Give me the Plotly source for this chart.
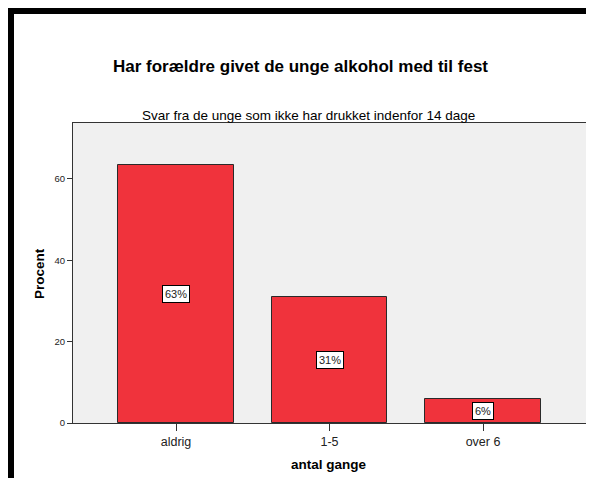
import plotly.graph_objects as go

categories = ["aldrig", "1-5", "over 6"]
percent = [63.3, 31.0, 5.9]
labels = ["63%", "31%", "6%"]

# figure is rendered with an 8px page margin; coordinates below are figure pixels
W, H = 586, 470
L, R, T, B = 65, 8, 115, 55
pw, ph = W - L - R, H - T - B

def px(x):
    return (x - L) / pw

def py(y):
    return (H - B - y) / ph

font_f = "Liberation Sans, Arial, Helvetica"

fig = go.Figure()
fig.add_trace(go.Bar(
    x=categories, y=percent, width=0.755,
    marker=dict(color="#f0333c", line=dict(color="#2a2a2a", width=1)),
    hoverinfo="skip",
))

for c, v, t in zip(categories, percent, labels):
    fig.add_annotation(
        x=c, y=v / 2, text=t, showarrow=False,
        font=dict(family=font_f, size=11, color="#222"),
        bgcolor="white", bordercolor="black", borderwidth=1, borderpad=2,
    )

def text_at(x, y, text, size, angle=0):
    fig.add_annotation(xref="paper", yref="paper", x=px(x), y=py(y),
                       xanchor="center", yanchor="middle", textangle=angle,
                       text=text, showarrow=False,
                       font=dict(family=font_f, size=size, color="black"))

text_at(292, 59, "<b>Har forældre givet de unge alkohol med til fest</b>", 17)
text_at(300, 107, "Svar fra de unge som ikke har drukket indenfor 14 dage", 13.5)
text_at(321, 456, "<b>antal gange</b>", 13.5)
text_at(31, 266, "<b>Procent</b>", 13.5, -90)

# black frame bands (top and left)
fig.add_shape(type="rect", xref="paper", yref="paper",
              x0=px(0), x1=px(W + 5), y0=py(0), y1=py(6),
              fillcolor="black", line=dict(width=0), layer="above")
fig.add_shape(type="rect", xref="paper", yref="paper",
              x0=px(0), x1=px(6), y0=py(0), y1=py(H + 5),
              fillcolor="black", line=dict(width=0), layer="above")

fig.update_layout(
    width=W, height=H,
    margin=dict(l=L, r=R, t=T, b=B),
    paper_bgcolor="white", plot_bgcolor="#f0f0f0",
    showlegend=False,
    font=dict(family=font_f, color="black"),
    bargap=0,
)
fig.update_xaxes(
    range=[-0.671, 2.671], showline=True, linecolor="#333", linewidth=1, mirror=True,
    ticks="outside", ticklen=7, tickcolor="#333",
    tickfont=dict(family=font_f, size=12.5, color="#222"),
    showgrid=False, zeroline=False,
)
fig.update_yaxes(
    range=[0, 73.7], tickvals=[0, 20, 40, 60], showline=True, linecolor="#333", linewidth=1,
    mirror=True, ticks="outside", ticklen=5, tickcolor="#333",
    tickfont=dict(family=font_f, size=9.5, color="#222"),
    showgrid=False, zeroline=False,
)

fig.write_html("out.html")
